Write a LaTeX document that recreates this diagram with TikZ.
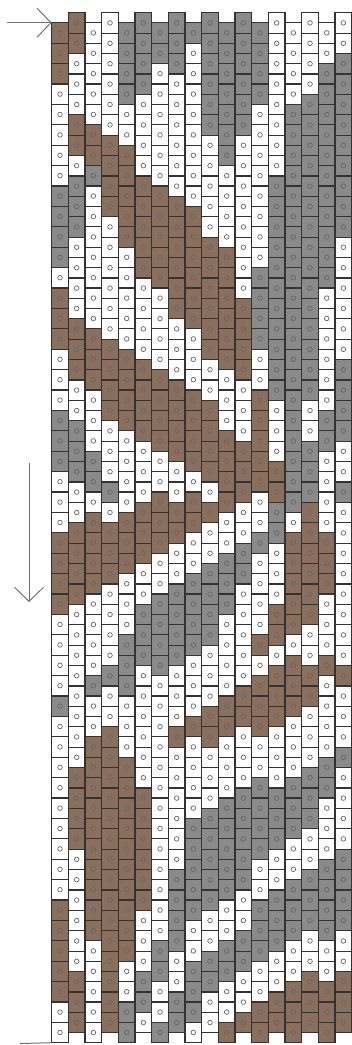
\documentclass[tikz,border=0pt]{standalone}
\usepackage{tikz}
\usetikzlibrary{arrows.meta}
\definecolor{beadB}{RGB}{139,111,93}
\definecolor{beadG}{RGB}{138,138,138}
\definecolor{beadW}{RGB}{255,255,255}
\tikzset{
  bead/.style    = {draw=black!80, line width=1.2pt, minimum width=16.67pt,
                    minimum height=20.4pt, inner sep=0pt, outer sep=0pt},
  hole/.style    = {draw=black!60, line width=0.7pt},
  guide/.style   = {draw=black!55, line width=1pt},
  barb/.style    = {-{Straight Barb[length=14pt, width=29pt]}},
}
\begin{document}
\begin{tikzpicture}[x=1pt,y=-1pt]
  \useasboundingbox (0,0) rectangle (352,1045);
  % beads, column by column (odd columns sit half a bead lower)
  \foreach \c/\list in {
    1/{B,B,B,W,W,W,W,W,G,G,G,G,W,B,B,B,W,W,W,G,G,G,W,W,W,B,B,B,B,W,W,W,W,G,W,W,W,W,W,W,W,W,W,B,B,B,B,B,W,W},
    2/{B,B,W,W,W,B,B,W,G,G,G,W,W,W,W,B,B,B,W,W,G,G,G,W,W,B,B,B,B,W,W,W,W,W,W,W,W,B,B,B,B,W,W,W,W,W,W,B,B,B},
    3/{W,W,W,W,W,B,B,G,W,W,W,W,W,W,W,B,B,B,W,W,W,G,G,W,B,B,B,B,W,W,W,W,G,W,W,B,B,B,B,B,B,B,B,B,B,W,W,W,W,W},
    4/{W,W,W,W,W,W,B,B,B,B,W,W,W,W,W,W,B,B,B,B,W,W,W,G,W,B,B,B,W,W,W,W,G,W,W,B,B,B,B,B,B,B,B,B,B,B,B,B,B,B},
    5/{G,G,G,G,W,W,B,B,B,B,B,W,W,W,W,W,B,B,B,B,W,W,W,W,B,B,B,W,W,W,G,G,G,W,W,W,B,B,B,B,B,B,B,B,B,B,W,W,G,G},
    6/{G,G,G,G,W,W,W,W,B,B,B,B,B,W,W,W,W,B,B,B,B,W,W,W,B,B,B,W,W,G,G,G,W,W,W,W,W,W,B,B,B,B,B,B,W,W,W,G,G,W},
    7/{G,G,W,W,W,W,W,W,B,B,B,B,B,W,W,W,W,B,B,B,B,W,W,B,B,B,W,W,G,G,G,G,W,W,W,W,W,W,W,W,W,W,W,W,W,G,G,W,W,G},
    8/{G,G,G,W,W,W,W,W,W,B,B,B,B,B,B,W,W,W,B,B,B,B,W,W,B,B,W,W,G,G,G,G,W,W,W,B,W,W,W,W,W,W,G,G,G,G,W,W,G,G},
    9/{G,W,W,W,W,W,W,W,W,B,B,B,B,B,B,W,W,W,B,B,B,B,W,B,B,W,W,G,G,G,G,W,W,W,B,W,W,W,W,G,G,G,G,G,W,W,G,G,G,W},
    10/{G,G,G,G,G,G,W,W,W,W,W,B,B,B,B,B,B,W,W,B,B,B,B,W,B,W,W,G,G,G,G,W,W,W,B,B,W,W,W,G,G,G,G,G,W,W,G,G,W,W},
    11/{G,G,G,G,G,G,G,W,W,W,W,B,B,B,B,B,B,W,W,W,B,B,B,B,W,W,G,G,G,W,W,W,W,B,B,W,W,W,G,G,G,G,G,W,W,G,G,W,W,B},
    12/{G,G,G,G,G,G,W,W,W,W,W,W,W,W,B,B,B,B,W,W,W,B,B,B,W,W,G,G,W,W,W,W,W,B,B,W,W,W,G,G,G,G,G,W,W,G,G,W,W,B},
    13/{G,G,G,G,W,W,W,W,W,W,W,W,G,G,G,G,W,W,B,B,B,B,B,W,W,G,W,W,W,W,B,W,B,B,B,W,W,G,G,G,G,W,W,G,G,G,W,W,B,B},
    14/{W,W,W,W,W,W,W,W,G,G,G,G,G,G,G,G,G,G,G,W,W,W,B,B,G,G,W,W,W,B,B,W,B,B,B,W,W,W,G,G,G,W,W,G,G,G,W,W,B,B},
    15/{W,W,W,W,G,G,G,G,G,G,G,G,G,G,G,G,G,G,G,G,G,G,G,G,W,B,B,B,B,B,W,B,B,B,W,W,W,G,G,G,W,W,G,G,G,W,W,B,B,B},
    16/{W,W,W,W,G,G,G,G,G,G,G,G,G,G,G,G,G,G,G,W,W,G,G,G,B,B,B,B,B,B,W,W,B,B,W,W,W,G,G,G,W,W,G,G,G,W,W,B,B,B},
    17/{W,W,G,G,G,G,G,G,G,G,G,G,G,W,W,W,W,W,W,G,G,W,W,W,W,B,B,B,W,W,W,B,W,W,W,W,G,G,W,W,W,G,G,G,G,W,W,B,B,B},
    18/{W,W,G,G,G,G,G,G,G,G,G,W,W,W,W,W,W,G,G,G,G,W,W,G,W,W,W,W,W,W,W,W,B,W,W,W,G,W,W,W,W,G,G,G,G,W,W,B,B,B}}{
    \pgfmathsetmacro\ytop{mod(\c,2)==1 ? 32.9 : 22.9}
    \foreach \k [count=\r from 0] in \list {
      \node[bead, fill=bead\k] (b-\c-\r) at ({51.7+16.667*(\c-0.5)},{\ytop+20.4*\r}) {};
      \draw[hole] (b-\c-\r.center) circle (2.3);
    }
  }
  % start arrow, reading direction, end mark
  \coordinate (start) at (6.7,22.7);
  \draw[guide, barb] (start) -- (b-1-0.north west);
  \coordinate (dirA) at (29,463);
  \coordinate (dirB) at (29,602);
  \draw[guide, barb] (dirA) -- (dirB);
  \coordinate (stop) at (20,1043.5);
  \draw[guide] (stop) -- (b-1-49.south west);
\end{tikzpicture}
\end{document}
